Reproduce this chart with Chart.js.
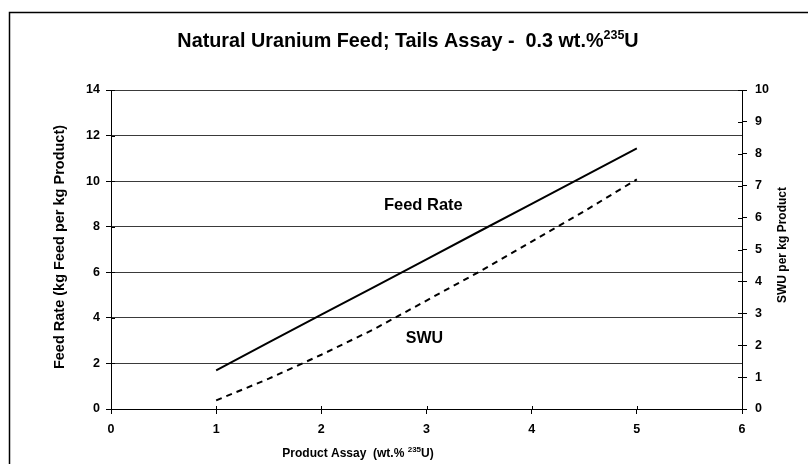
<!DOCTYPE html>
<html>
<head>
<meta charset="utf-8">
<script src="https://cdn.jsdelivr.net/npm/chart.js@4"></script>
<style>
  html, body { margin: 0; padding: 0; background: #fff; }
  canvas { display: block; }
</style>
</head>
<body>
<canvas id="myChart" width="808" height="464"></canvas>
<script>
// data
const assay = [1, 1.5, 2, 2.5, 3, 3.5, 4, 4.5, 5];
const feedRate = [1.70, 2.92, 4.14, 5.35, 6.57, 7.79, 9.00, 10.22, 11.44];
const swu = [0.27, 0.95, 1.70, 2.50, 3.40, 4.30, 5.25, 6.20, 7.20];

const FONT = "'Liberation Sans', Arial, sans-serif";

// draws a run of text pieces (for the 235 superscripts), centred on x
function drawRich(ctx, parts, x, y) {
  let total = 0;
  parts.forEach(p => {
    ctx.font = "bold " + p.size + "px " + FONT;
    p.w = ctx.measureText(p.t).width;
    total += p.w;
  });
  let cx = x - total / 2;
  ctx.textAlign = "left";
  ctx.textBaseline = "alphabetic";
  parts.forEach(p => {
    ctx.font = "bold " + p.size + "px " + FONT;
    ctx.fillText(p.t, cx, y + (p.dy || 0));
    cx += p.w;
  });
}

const extras = {
  id: "extras",
  afterDraw(chart) {
    const ctx = chart.ctx;
    const area = chart.chartArea;
    const xs = chart.scales.x, yl = chart.scales.y, yr = chart.scales.y2;
    ctx.save();
    ctx.fillStyle = "#000";
    ctx.strokeStyle = "#000";

    // outer frame (runs off the right and bottom edge)
    ctx.lineWidth = 1.5;
    ctx.beginPath();
    ctx.moveTo(9.5, 470);
    ctx.lineTo(9.5, 12.5);
    ctx.lineTo(820, 12.5);
    ctx.stroke();

    // tick marks crossing into the plot
    ctx.lineWidth = 1;
    ctx.beginPath();
    yl.ticks.forEach(t => {
      const py = Math.round(yl.getPixelForValue(t.value)) + 0.5;
      ctx.moveTo(area.left, py); ctx.lineTo(area.left + 4, py);
    });
    yr.ticks.forEach(t => {
      const py = Math.round(yr.getPixelForValue(t.value)) + 0.5;
      ctx.moveTo(area.right - 4, py); ctx.lineTo(area.right, py);
    });
    xs.ticks.forEach(t => {
      const px = Math.round(xs.getPixelForValue(t.value)) + 0.5;
      ctx.moveTo(px, area.bottom - 3); ctx.lineTo(px, area.bottom);
    });
    ctx.stroke();

    // title
    drawRich(ctx, [
      { t: "Natural Uranium Feed; Tails Assay -  0.3 wt.%", size: 19.8 },
      { t: "235", size: 12.5, dy: -8 },
      { t: "U", size: 19.8 }
    ], 408, 47);

    // x axis title
    drawRich(ctx, [
      { t: "Product Assay  (wt.% ", size: 12 },
      { t: "235", size: 8, dy: -5 },
      { t: "U)", size: 12 }
    ], 358, 457);

    // series labels
    ctx.textAlign = "center";
    ctx.textBaseline = "middle";
    ctx.font = "bold 16.5px " + FONT;
    ctx.fillText("Feed Rate", xs.getPixelForValue(2.97), yl.getPixelForValue(8.95));
    ctx.font = "bold 16px " + FONT;
    ctx.fillText("SWU", xs.getPixelForValue(2.98), yl.getPixelForValue(3.1));

    // left axis title
    ctx.save();
    ctx.translate(60, 247);
    ctx.rotate(-Math.PI / 2);
    ctx.font = "bold 14.5px " + FONT;
    ctx.fillText("Feed Rate (kg Feed per kg Product)", 0, 0);
    ctx.restore();

    // right axis title
    ctx.save();
    ctx.translate(783, 245);
    ctx.rotate(-Math.PI / 2);
    ctx.font = "bold 12px " + FONT;
    ctx.fillText("SWU per kg Product", 0, 0);
    ctx.restore();

    ctx.restore();
  }
};

const tickFont = { family: FONT, size: 12.5, weight: "bold" };

new Chart(document.getElementById("myChart").getContext("2d"), {
  type: "line",
  data: {
    datasets: [
      {
        label: "Feed Rate",
        data: assay.map((a, i) => ({ x: a, y: feedRate[i] })),
        yAxisID: "y",
        borderColor: "#000",
        borderWidth: 2,
        pointRadius: 0,
        tension: 0
      },
      {
        label: "SWU",
        data: assay.map((a, i) => ({ x: a, y: swu[i] })),
        yAxisID: "y2",
        borderColor: "#000",
        borderWidth: 2,
        borderDash: [6, 5],
        pointRadius: 0,
        tension: 0
      }
    ]
  },
  options: {
    responsive: false,
    animation: false,
    layout: { padding: { top: 90, left: 0, right: 0, bottom: 0 } },
    plugins: { legend: { display: false }, tooltip: { enabled: false } },
    scales: {
      x: {
        type: "linear",
        min: 0, max: 6,
        ticks: { stepSize: 1, color: "#000", font: tickFont, padding: 8 },
        grid: { drawOnChartArea: false, tickLength: 5, tickColor: "#000" },
        border: { color: "#000", width: 1 },
        afterFit: s => { s.height = 55; }
      },
      y: {
        position: "left",
        min: 0, max: 14,
        ticks: { stepSize: 2, color: "#000", font: tickFont, padding: 6 },
        grid: { color: "#3a3a3a", lineWidth: 1, tickLength: 5, tickColor: "#000" },
        border: { color: "#000", width: 1 },
        afterFit: s => { s.width = 111; }
      },
      y2: {
        position: "right",
        min: 0, max: 10,
        ticks: { stepSize: 1, color: "#000", font: tickFont, padding: 8 },
        grid: { drawOnChartArea: false, tickLength: 5, tickColor: "#000" },
        border: { color: "#000", width: 1 },
        afterFit: s => { s.width = 66; }
      }
    }
  },
  plugins: [extras]
});
</script>
</body>
</html>
